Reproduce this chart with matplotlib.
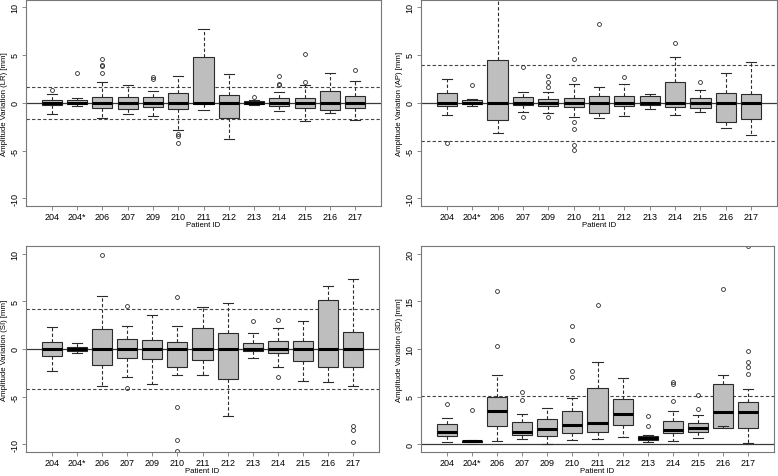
import matplotlib
matplotlib.use("Agg")
import matplotlib.pyplot as plt

plt.rcParams['font.family'] = ['Liberation Sans', 'DejaVu Sans']

patients = ["204", "204*", "206", "207", "209", "210", "211", "212", "213", "214", "215", "216", "217"]

# ---- LR ----
lr_med = [0, 0, 0, 0, 0, 0, 0, 0, 0, 0, 0, 0, 0]
lr_q1 = [-0.28, -0.1, -0.52, -0.63, -0.42, -0.7, -0.1, -1.57, -0.1, -0.35, -0.56, -0.73, -0.56]
lr_q3 = [0.25, 0.3, 0.63, 0.63, 0.63, 1.01, 4.83, 0.84, 0.14, 0.45, 0.52, 1.26, 0.7]
lr_lo = [-1.15, -0.38, -1.57, -1.22, -1.36, -2.87, -0.73, -3.81, -0.28, -0.84, -1.89, -1.05, -1.78]
lr_hi = [0.87, 0.52, 2.13, 1.85, 1.26, 2.83, 7.73, 3.0, 0.25, 1.12, 1.85, 3.15, 2.31]
lr_out = [[1.3], [3.08], [4.55, 3.95, 3.88, 3.08], [], [2.73, 2.45], [-3.32, -3.5, -4.2],
          [], [], [0.63], [2.83, 2.0, 1.89], [5.14, 2.2], [], [3.46]]
lr_thr = 1.67

# ---- AP ----
ap_med = [0, 0, 0, 0, 0, 0, 0, 0, 0, 0, 0, 0, 0]
ap_q1 = [-0.35, -0.14, -1.78, -0.2, -0.31, -0.45, -1.12, -0.38, -0.21, -0.42, -0.52, -2.0, -1.68]
ap_q3 = [1.05, 0.31, 4.51, 0.6, 0.42, 0.49, 0.73, 0.73, 0.66, 2.2, 0.52, 1.01, 0.87]
ap_lo = [-1.29, -0.35, -3.15, -0.98, -1.08, -1.47, -1.64, -1.36, -0.7, -1.33, -0.98, -2.66, -3.39]
ap_hi = [2.45, 0.36, 12.0, 1.15, 1.15, 1.96, 1.68, 1.96, 0.94, 4.83, 1.36, 3.15, 4.3]
ap_out = [[-4.2], [1.82], [], [3.7, -1.5], [2.83, 2.13, 1.68, -1.47],
          [4.62, 2.48, -2.0, -2.73, -4.4, -4.9], [8.2], [2.73], [], [6.26], [2.2], [], []]
ap_thr = 3.95

# ---- SI ----
si_med = [0, 0, 0, 0, 0, 0, 0, 0, 0, 0, 0, 0, 0]
si_q1 = [-0.74, -0.21, -1.69, -0.95, -1.06, -1.9, -1.2, -3.17, -0.18, -0.42, -1.27, -1.87, -1.9]
si_q3 = [0.74, 0.18, 2.08, 1.02, 0.92, 0.78, 2.15, 1.73, 0.63, 0.85, 0.81, 5.15, 1.76]
si_lo = [-2.26, -0.42, -3.92, -2.96, -3.67, -2.72, -2.75, -6.98, -0.95, -1.87, -3.39, -3.49, -3.92]
si_hi = [2.29, 0.63, 5.57, 2.43, 3.6, 2.43, 4.37, 4.83, 1.69, 2.19, 2.96, 6.56, 7.3]
si_out = [[], [], [9.9], [4.48, -4.09], [], [5.43, -6.03, -9.49, -10.7], [], [],
          [2.89], [3.03, -2.89], [], [], [-8.04, -8.47, -9.74]]
si_thr = 4.15

# ---- 3D ----
d3_med = [1.3, 0.35, 3.51, 1.33, 1.65, 2.0, 2.21, 3.16, 0.7, 1.51, 1.75, 3.44, 3.44]
d3_q1 = [0.91, 0.28, 1.89, 0.95, 0.88, 1.16, 1.33, 2.0, 0.42, 1.16, 1.33, 1.68, 1.75]
d3_q3 = [2.14, 0.39, 4.98, 2.32, 2.63, 3.47, 5.86, 4.74, 0.91, 2.46, 2.21, 6.32, 4.42]
d3_lo = [0.21, 0.21, 0.35, 0.56, 0.04, 0.46, 0.53, 0.77, 0.21, 0.35, 0.63, 1.96, 0.18]
d3_hi = [2.81, 0.42, 7.23, 3.16, 3.79, 4.88, 8.63, 6.91, 1.02, 3.47, 3.05, 7.3, 5.82]
d3_out = [[4.28], [3.61], [16.1, 10.3], [5.44, 4.63], [], [12.46, 10.98, 7.65, 7.09],
          [14.63], [], [2.95, 1.89], [6.56, 6.35, 4.56], [5.19, 3.68], [16.3],
          [20.85, 9.79, 8.63, 8.07, 7.37]]
d3_thr = 5.05

W, H = 778, 477
fig = plt.figure(figsize=(W / 100, H / 100), dpi=100)

FRAME = '#777777'
DARK = '#2b2b2b'


def make_ax(l, r, t, b):
    return fig.add_axes([l / W, (H - b) / H, (r - l) / W, (b - t) / H])


def panel(ax, med, q1, q3, lo, hi, out, thr, ylab, ylim, yticks, sym=True, w_px=355, h_px=207):
    n = len(patients)
    pos = list(range(1, n + 1))
    ax.axhline(0, color='#3a3a3a', lw=0.9, zorder=1)
    ax.axhline(thr, color='#444444', lw=0.8, ls=(0, (3, 2)), zorder=1)
    if sym:
        ax.axhline(-thr, color='#444444', lw=0.8, ls=(0, (3, 2)), zorder=1)
    stats = []
    for i in range(n):
        stats.append(dict(med=med[i], q1=q1[i], q3=q3[i], whislo=lo[i], whishi=hi[i],
                          fliers=out[i], label=patients[i]))
    ax.bxp(stats, positions=pos, widths=0.8, capwidths=0.4, patch_artist=True,
           boxprops=dict(facecolor='#bebebe', edgecolor=DARK, lw=0.8),
           medianprops=dict(color='black', lw=2.2, solid_capstyle='butt'),
           whiskerprops=dict(color=DARK, lw=0.8, ls=(0, (3, 2))),
           capprops=dict(color=DARK, lw=0.8),
           flierprops=dict(marker='o', markerfacecolor='none', markeredgecolor=DARK,
                           markersize=2.8, markeredgewidth=0.6),
           manage_ticks=False, zorder=2)
    ax.set_xlim(-0.02, n + 1.02)
    ax.set_ylim(*ylim)
    ax.set_xticks(pos)
    ax.set_xticklabels(patients, fontsize=6.5)
    ax.set_yticks(yticks)
    ax.set_yticklabels([str(v) for v in yticks], fontsize=6.5, rotation=90, va='center')
    ax.tick_params(axis='both', length=3, width=0.6, color=FRAME, pad=1.5)
    for s in ax.spines.values():
        s.set_color(FRAME)
        s.set_linewidth(0.8)
    ax.set_ylabel(ylab, fontsize=5.6)
    ax.yaxis.set_label_coords(-17.5 / w_px, 0.5)
    ax.set_xlabel("Patient ID", fontsize=5.6)
    ax.xaxis.set_label_coords(0.5, -15 / h_px)


sym_lim = (-10.8, 10.8)
sym_ticks = [-10, -5, 0, 5, 10]

ax1 = make_ax(26, 381, 0.5, 207)
panel(ax1, lr_med, lr_q1, lr_q3, lr_lo, lr_hi, lr_out, lr_thr,
      "Amplitude Variation (LR) [mm]", sym_lim, sym_ticks)
ax2 = make_ax(421, 777, 0.5, 207)
panel(ax2, ap_med, ap_q1, ap_q3, ap_lo, ap_hi, ap_out, ap_thr,
      "Amplitude Variation (AP) [mm]", sym_lim, sym_ticks, w_px=356)
ax3 = make_ax(26, 379, 247, 453)
panel(ax3, si_med, si_q1, si_q3, si_lo, si_hi, si_out, si_thr,
      "Amplitude Variation (SI) [mm]", sym_lim, sym_ticks, w_px=353, h_px=206)
ax4 = make_ax(421, 774, 247, 453)
panel(ax4, d3_med, d3_q1, d3_q3, d3_lo, d3_hi, d3_out, d3_thr,
      "Amplitude Variation (3D) [mm]", (-0.8, 20.8), [0, 5, 10, 15, 20], sym=False,
      w_px=353, h_px=206)

fig.savefig("out.png", dpi=100)
